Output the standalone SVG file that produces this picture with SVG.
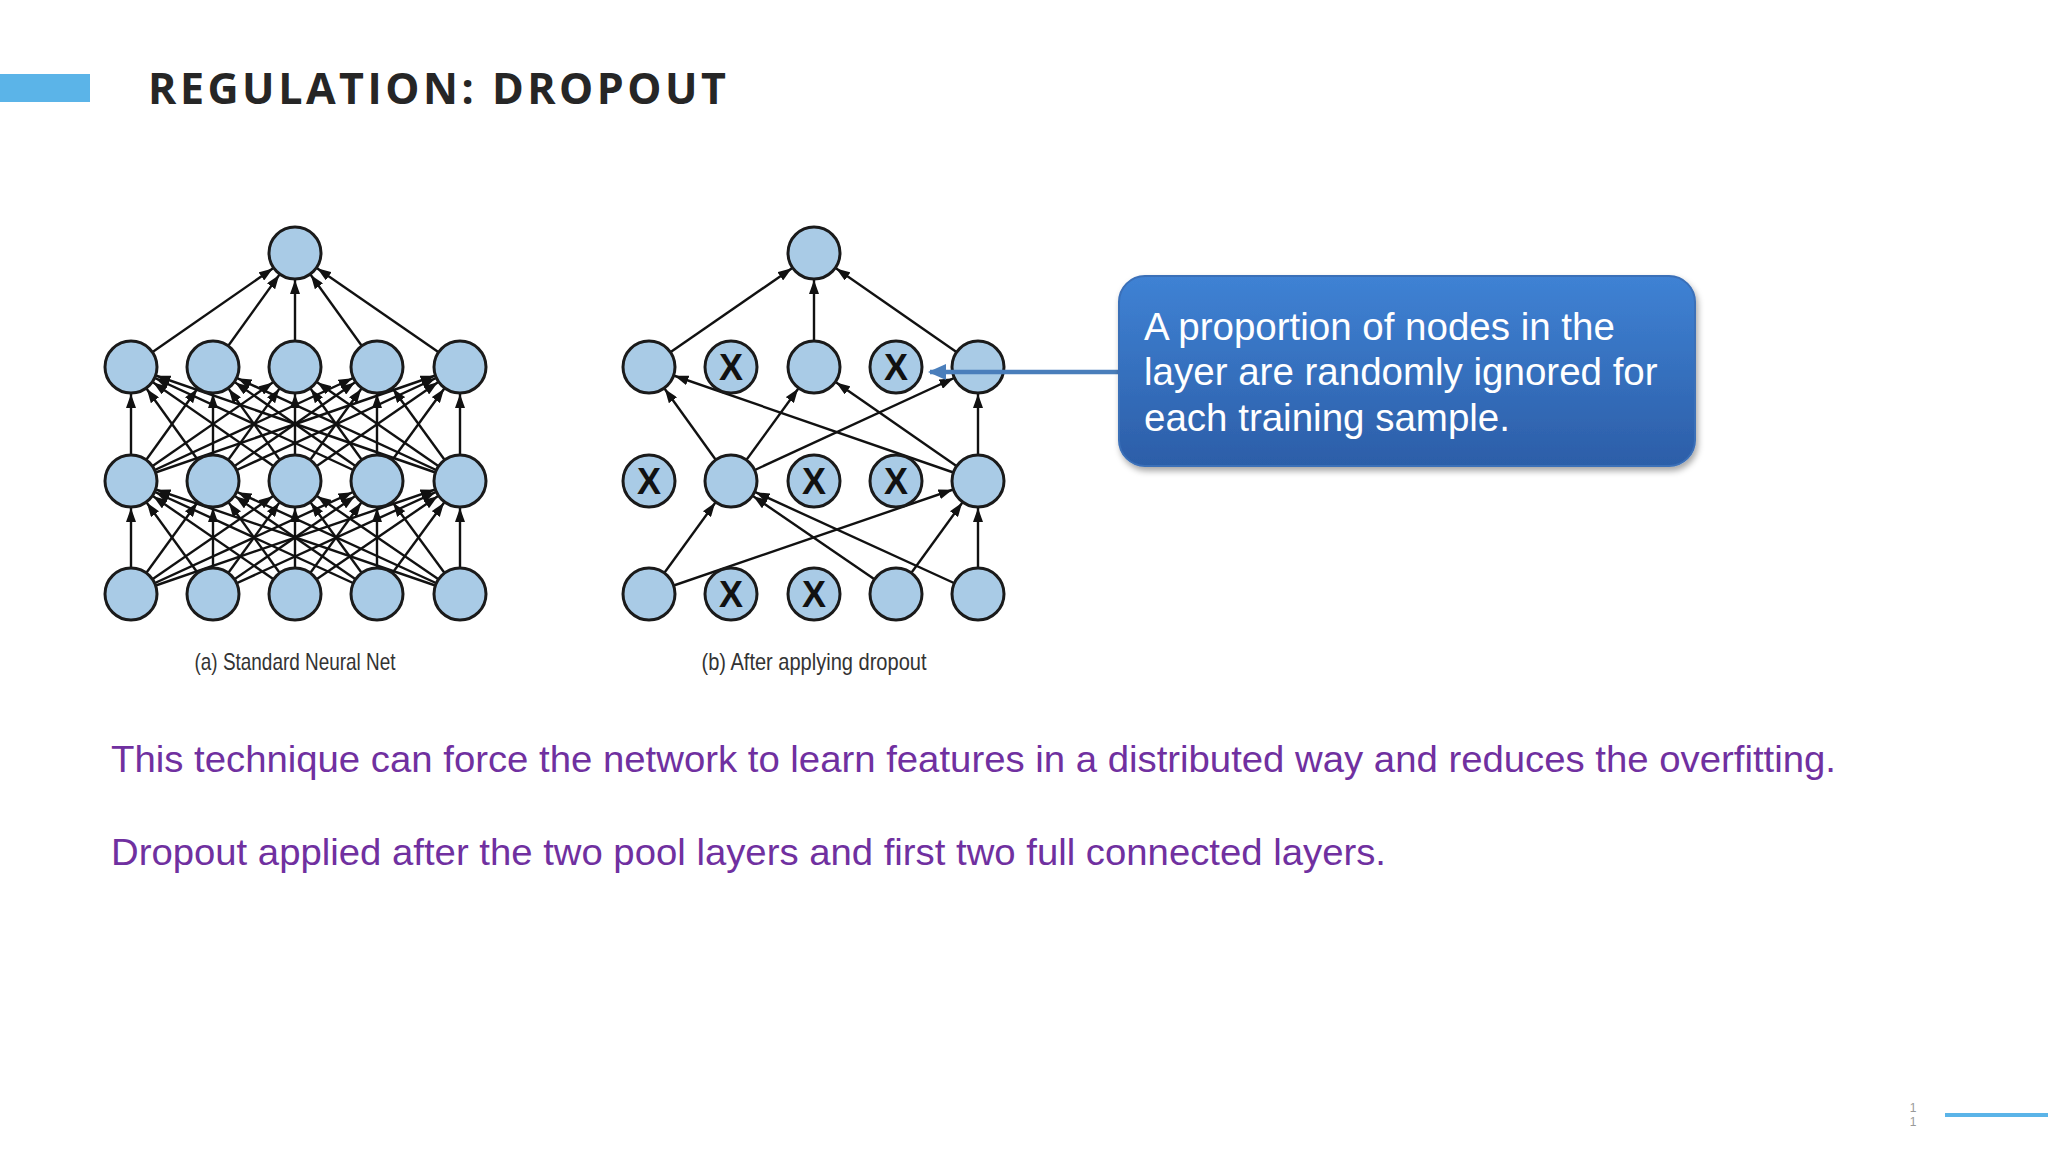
<svg xmlns="http://www.w3.org/2000/svg" width="2048" height="1152" viewBox="0 0 2048 1152">
<style>
.n{fill:#a9cbe6;stroke:#1a1a1a;stroke-width:3}
line.e{stroke:#111;stroke-width:2.4;marker-end:url(#ah)}
.x{font-family:"Liberation Sans",sans-serif;font-weight:bold;font-size:36px;fill:#111;text-anchor:middle}
.cap{font-family:"Liberation Sans",sans-serif;font-size:24px;fill:#333;text-anchor:middle}
.p{font-family:"Liberation Sans",sans-serif;font-size:36px;fill:#7030a0}
.c{font-family:"Liberation Sans",sans-serif;font-size:38.5px;fill:#fff}
</style>
<defs>
<marker id="ah" markerUnits="userSpaceOnUse" viewBox="0 0 42 10" refX="41" refY="5" markerWidth="42" markerHeight="10" orient="auto">
<path d="M0,0 L14,5 L0,10 z" fill="#111"/>
</marker>
<marker id="bh" markerUnits="userSpaceOnUse" viewBox="0 0 18 16" refX="16" refY="8" markerWidth="18" markerHeight="16" orient="auto">
<path d="M0,0 L18,8 L0,16 z" fill="#4a7ebb"/>
</marker>
<linearGradient id="g" x1="0" y1="0" x2="0" y2="1">
<stop offset="0" stop-color="#3f82d4"/><stop offset="1" stop-color="#2c5ea8"/>
</linearGradient>
<filter id="sh" x="-10%" y="-10%" width="130%" height="130%"><feDropShadow dx="2" dy="4" stdDeviation="3" flood-opacity="0.35"/></filter>
</defs>
<rect width="2048" height="1152" fill="#fff"/>
<g id="title">
<rect x="0" y="74" width="90" height="28" fill="#5bb4e8"/>
<text x="148" y="104" font-family="'Open Sans','Liberation Sans',sans-serif" font-weight="bold" font-size="43" letter-spacing="3" fill="#262626" textLength="581" lengthAdjust="spacing">REGULATION: DROPOUT</text>
</g>
<g id="connectors">
<line class="e" x1="131" y1="367" x2="295" y2="253"/><line class="e" x1="213" y1="367" x2="295" y2="253"/><line class="e" x1="295" y1="367" x2="295" y2="253"/><line class="e" x1="377" y1="367" x2="295" y2="253"/><line class="e" x1="460" y1="367" x2="295" y2="253"/>
<line class="e" x1="131" y1="481" x2="131" y2="367"/><line class="e" x1="131" y1="481" x2="213" y2="367"/><line class="e" x1="131" y1="481" x2="295" y2="367"/><line class="e" x1="131" y1="481" x2="377" y2="367"/><line class="e" x1="131" y1="481" x2="460" y2="367"/>
<line class="e" x1="213" y1="481" x2="131" y2="367"/><line class="e" x1="213" y1="481" x2="213" y2="367"/><line class="e" x1="213" y1="481" x2="295" y2="367"/><line class="e" x1="213" y1="481" x2="377" y2="367"/><line class="e" x1="213" y1="481" x2="460" y2="367"/>
<line class="e" x1="295" y1="481" x2="131" y2="367"/><line class="e" x1="295" y1="481" x2="213" y2="367"/><line class="e" x1="295" y1="481" x2="295" y2="367"/><line class="e" x1="295" y1="481" x2="377" y2="367"/><line class="e" x1="295" y1="481" x2="460" y2="367"/>
<line class="e" x1="377" y1="481" x2="131" y2="367"/><line class="e" x1="377" y1="481" x2="213" y2="367"/><line class="e" x1="377" y1="481" x2="295" y2="367"/><line class="e" x1="377" y1="481" x2="377" y2="367"/><line class="e" x1="377" y1="481" x2="460" y2="367"/>
<line class="e" x1="460" y1="481" x2="131" y2="367"/><line class="e" x1="460" y1="481" x2="213" y2="367"/><line class="e" x1="460" y1="481" x2="295" y2="367"/><line class="e" x1="460" y1="481" x2="377" y2="367"/><line class="e" x1="460" y1="481" x2="460" y2="367"/>
<line class="e" x1="131" y1="594" x2="131" y2="481"/><line class="e" x1="131" y1="594" x2="213" y2="481"/><line class="e" x1="131" y1="594" x2="295" y2="481"/><line class="e" x1="131" y1="594" x2="377" y2="481"/><line class="e" x1="131" y1="594" x2="460" y2="481"/>
<line class="e" x1="213" y1="594" x2="131" y2="481"/><line class="e" x1="213" y1="594" x2="213" y2="481"/><line class="e" x1="213" y1="594" x2="295" y2="481"/><line class="e" x1="213" y1="594" x2="377" y2="481"/><line class="e" x1="213" y1="594" x2="460" y2="481"/>
<line class="e" x1="295" y1="594" x2="131" y2="481"/><line class="e" x1="295" y1="594" x2="213" y2="481"/><line class="e" x1="295" y1="594" x2="295" y2="481"/><line class="e" x1="295" y1="594" x2="377" y2="481"/><line class="e" x1="295" y1="594" x2="460" y2="481"/>
<line class="e" x1="377" y1="594" x2="131" y2="481"/><line class="e" x1="377" y1="594" x2="213" y2="481"/><line class="e" x1="377" y1="594" x2="295" y2="481"/><line class="e" x1="377" y1="594" x2="377" y2="481"/><line class="e" x1="377" y1="594" x2="460" y2="481"/>
<line class="e" x1="460" y1="594" x2="131" y2="481"/><line class="e" x1="460" y1="594" x2="213" y2="481"/><line class="e" x1="460" y1="594" x2="295" y2="481"/><line class="e" x1="460" y1="594" x2="377" y2="481"/><line class="e" x1="460" y1="594" x2="460" y2="481"/>
<line class="e" x1="649" y1="367" x2="814" y2="253"/><line class="e" x1="814" y1="367" x2="814" y2="253"/><line class="e" x1="978" y1="367" x2="814" y2="253"/>
<line class="e" x1="731" y1="481" x2="649" y2="367"/><line class="e" x1="731" y1="481" x2="814" y2="367"/><line class="e" x1="731" y1="481" x2="978" y2="367"/>
<line class="e" x1="978" y1="481" x2="649" y2="367"/><line class="e" x1="978" y1="481" x2="814" y2="367"/><line class="e" x1="978" y1="481" x2="978" y2="367"/>
<line class="e" x1="649" y1="594" x2="731" y2="481"/><line class="e" x1="896" y1="594" x2="731" y2="481"/><line class="e" x1="978" y1="594" x2="731" y2="481"/>
<line class="e" x1="649" y1="594" x2="978" y2="481"/><line class="e" x1="896" y1="594" x2="978" y2="481"/><line class="e" x1="978" y1="594" x2="978" y2="481"/>
</g>
<g id="net-a">
<circle class="n" cx="295" cy="253" r="26"/>
<circle class="n" cx="131" cy="367" r="26"/><circle class="n" cx="213" cy="367" r="26"/><circle class="n" cx="295" cy="367" r="26"/><circle class="n" cx="377" cy="367" r="26"/><circle class="n" cx="460" cy="367" r="26"/>
<circle class="n" cx="131" cy="481" r="26"/><circle class="n" cx="213" cy="481" r="26"/><circle class="n" cx="295" cy="481" r="26"/><circle class="n" cx="377" cy="481" r="26"/><circle class="n" cx="460" cy="481" r="26"/>
<circle class="n" cx="131" cy="594" r="26"/><circle class="n" cx="213" cy="594" r="26"/><circle class="n" cx="295" cy="594" r="26"/><circle class="n" cx="377" cy="594" r="26"/><circle class="n" cx="460" cy="594" r="26"/>
<text class="cap" x="295" y="670" textLength="201" lengthAdjust="spacingAndGlyphs">(a) Standard Neural Net</text>
</g>
<g id="net-b">
<circle class="n" cx="814" cy="253" r="26"/>
<circle class="n" cx="649" cy="367" r="26"/><circle class="n" cx="731" cy="367" r="26"/><circle class="n" cx="814" cy="367" r="26"/><circle class="n" cx="896" cy="367" r="26"/><circle class="n" cx="978" cy="367" r="26"/>
<circle class="n" cx="649" cy="481" r="26"/><circle class="n" cx="731" cy="481" r="26"/><circle class="n" cx="814" cy="481" r="26"/><circle class="n" cx="896" cy="481" r="26"/><circle class="n" cx="978" cy="481" r="26"/>
<circle class="n" cx="649" cy="594" r="26"/><circle class="n" cx="731" cy="594" r="26"/><circle class="n" cx="814" cy="594" r="26"/><circle class="n" cx="896" cy="594" r="26"/><circle class="n" cx="978" cy="594" r="26"/>
<text class="x" x="731" y="380">X</text><text class="x" x="896" y="380">X</text>
<text class="x" x="649" y="494">X</text><text class="x" x="814" y="494">X</text><text class="x" x="896" y="494">X</text>
<text class="x" x="731" y="607">X</text><text class="x" x="814" y="607">X</text>
<text class="cap" x="814" y="670" textLength="225" lengthAdjust="spacingAndGlyphs">(b) After applying dropout</text>
</g>
<g id="callout">
<line x1="1119" y1="372" x2="930" y2="372" stroke="#4a7ebb" stroke-width="4.5" marker-end="url(#bh)"/>
<rect x="1119" y="276" width="576" height="190" rx="26" fill="url(#g)" stroke="#3a6fb8" stroke-width="2" filter="url(#sh)"/>
<text class="c" x="1144" y="340">A proportion of nodes in the</text>
<text class="c" x="1144" y="385">layer are randomly ignored for</text>
<text class="c" x="1144" y="431">each training sample.</text>
</g>
<g id="body">
<text class="p" x="111" y="772" textLength="1725" lengthAdjust="spacingAndGlyphs">This technique can force the network to learn features in a distributed way and reduces the overfitting.</text>
<text class="p" x="111" y="865" textLength="1275" lengthAdjust="spacingAndGlyphs">Dropout applied after the two pool layers and first two full connected layers.</text>
</g>
<g id="footer">
<text x="1913" y="1112" font-family="'Liberation Sans',sans-serif" font-size="12" fill="#999" text-anchor="middle">1</text>
<text x="1913" y="1126" font-family="'Liberation Sans',sans-serif" font-size="12" fill="#999" text-anchor="middle">1</text>
<line x1="1945" y1="1115" x2="2048" y2="1115" stroke="#5bb4e8" stroke-width="4"/>
</g>
</svg>
